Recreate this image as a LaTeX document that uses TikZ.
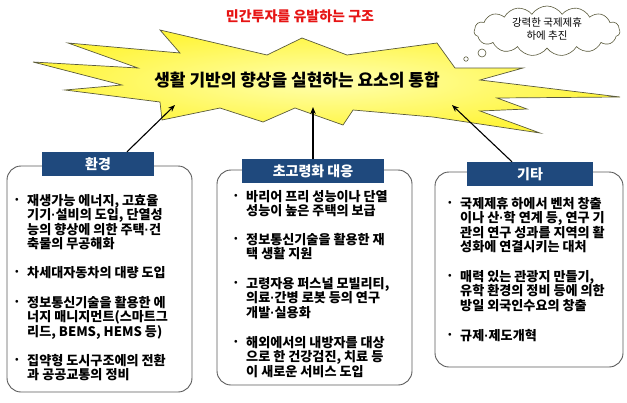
\documentclass[tikz,border=0pt]{standalone}
\usepackage{fontspec}
\setmainfont{Noto Sans CJK KR}
\newfontfamily\dotfont{Liberation Sans}
\newcommand\kdot{{\dotfont\bfseries ·}}
\usetikzlibrary{shapes.symbols,arrows.meta}
\definecolor{tabblue}{RGB}{31,73,125}
\definecolor{boxline}{RGB}{90,90,90}
\definecolor{titlered}{RGB}{230,20,20}
\definecolor{burstline}{RGB}{90,90,60}
\begin{document}
\begin{tikzpicture}[x=1pt,y=-1pt,
  boxframe/.style={draw=boxline, line width=0.9pt, rounded corners=14pt, fill=white, inner sep=0pt},
  tabbox/.style={fill=tabblue, text=white, font=\bfseries\fontsize{14}{16}\selectfont, inner sep=0pt},
  itemtext/.style={anchor=north west, align=left, inner sep=0pt, font=\bfseries\fontsize{13.1}{14.4}\selectfont},
  bul/.style={inner sep=0pt, font=\bfseries\fontsize{9}{10}\selectfont},
  arr/.style={-{Stealth[length=7pt,width=5.5pt]}, line width=1.1pt},
  puff/.style={circle, draw=burstline, line width=0.6pt, inner sep=0pt, fill=white}]

\useasboundingbox (0,0) rectangle (627,402);

% title
\node[font=\bfseries\fontsize{14}{16}\selectfont, text=titlered] (title) at (300,16) {민간투자를 유발하는 구조};

% starburst
\draw[draw=burstline, line width=0.7pt,
      inner color={rgb,255:red,255;green,255;blue,175},
      outer color={rgb,255:red,255;green,245;blue,60}]
  (160,30) -- (267,55) -- (302,38) -- (347,55) -- (437,43) -- (455,68) -- (523,68)
  -- (480,80) -- (620,97) -- (497,98) -- (527,109) -- (480,111) -- (540,133)
  -- (433,117) -- (353,110) -- (343,125) -- (295,108) -- (263,122) -- (220,108)
  -- (162,120) -- (160,102) -- (65,90) -- (122,85) -- (33,62) -- (138,68)
  -- (68,43) -- (180,53) -- cycle;
\node[font=\bfseries\fontsize{17}{19}\selectfont, inner sep=0pt] (core) at (297,80) {생활 기반의 향상을 실현하는 요소의 통합};
\coordinate (hL) at (175,105);
\coordinate (hM) at (313,107);
\coordinate (hR) at (452,105);

% cloud
\node[cloud, draw=burstline, line width=0.6pt, fill=white, cloud puffs=15, cloud puff arc=115, aspect=2.9,
      minimum width=146pt, minimum height=50pt, inner sep=0pt] (cloud) at (547,31) {};
\node[align=center, font=\fontsize{10.5}{13}\selectfont, inner sep=0pt] (cloudtxt) at (547,29.5) {강력한 국제제휴\\하에 추진};
\node[puff, minimum size=8pt] (puffA) at (482,53) {};
\node[puff, minimum size=4.5pt] (puffB) at (466,59) {};

% boxes
\node[boxframe, minimum width=185pt, minimum height=226pt] (envbox) at (99.5,279) {};
\node[boxframe, minimum width=195pt, minimum height=215pt] (agebox) at (314.5,277.5) {};
\node[boxframe, minimum width=188pt, minimum height=195pt] (etcbox) at (529,269.5) {};

\node[tabbox, minimum width=112pt, minimum height=24pt] (envtab) at (98,164) {환경};
\node[tabbox, minimum width=142pt, minimum height=24pt] (agetab) at (313,171) {초고령화 대응};
\node[tabbox, minimum width=126pt, minimum height=24pt] (etctab) at (530,174) {기타};

% arrows
\draw[arr] ([xshift=29pt]envtab.north) -- (hL);
\draw[arr] (agetab.north) -- (hM);
\draw[arr] ([xshift=-18pt]etctab.north) -- (hR);

% left items
\node[bul] (e1b) at (17,200) {•};
\node[itemtext] (e1) at (27,194) {재생가능 에너지, 고효율\\기기\kdot 설비의 도입, 단열성\\능의 향상에 의한 주택\kdot 건\\축물의 무공해화};
\node[bul] (e2b) at (17,272) {•};
\node[itemtext] (e2) at (27,266) {차세대자동차의 대량 도입};
\node[bul] (e3b) at (17,302) {•};
\node[itemtext] (e3) at (27,296) {정보통신기술을 활용한 에\\너지 매니지먼트(스마트그\\리드, BEMS, HEMS 등)};
\node[bul] (e4b) at (17,360) {•};
\node[itemtext] (e4) at (27,354) {집약형 도시구조에의 전환\\과 공공교통의 정비};

% middle items
\node[bul] (a1b) at (236,196) {•};
\node[itemtext] (a1) at (246,190) {바리어 프리 성능이나 단열\\성능이 높은 주택의 보급};
\node[bul] (a2b) at (236,239) {•};
\node[itemtext] (a2) at (246,233) {정보통신기술을 활용한 재\\택 생활 지원};
\node[bul] (a3b) at (236,283) {•};
\node[itemtext] (a3) at (246,277) {고령자용 퍼스널 모빌리티,\\의료\kdot 간병 로봇 등의 연구\\개발\kdot 실용화};
\node[bul] (a4b) at (236,342) {•};
\node[itemtext] (a4) at (246,336) {해외에서의 내방자를 대상\\으로 한 건강검진, 치료 등\\이 새로운 서비스 도입};

% right items
\node[bul] (o1b) at (450,203) {•};
\node[itemtext] (o1) at (460,197) {국제제휴 하에서 벤처 창출\\이나 산\kdot 학 연계 등, 연구 기\\관의 연구 성과를 지역의 활\\성화에 연결시키는 대처};
\node[bul] (o2b) at (450,276) {•};
\node[itemtext] (o2) at (460,270) {매력 있는 관광지 만들기,\\유학 환경의 정비 등에 의한\\방일 외국인수요의 창출};
\node[bul] (o3b) at (450,335) {•};
\node[itemtext] (o3) at (460,329) {규제\kdot 제도개혁};
\end{tikzpicture}
\end{document}
